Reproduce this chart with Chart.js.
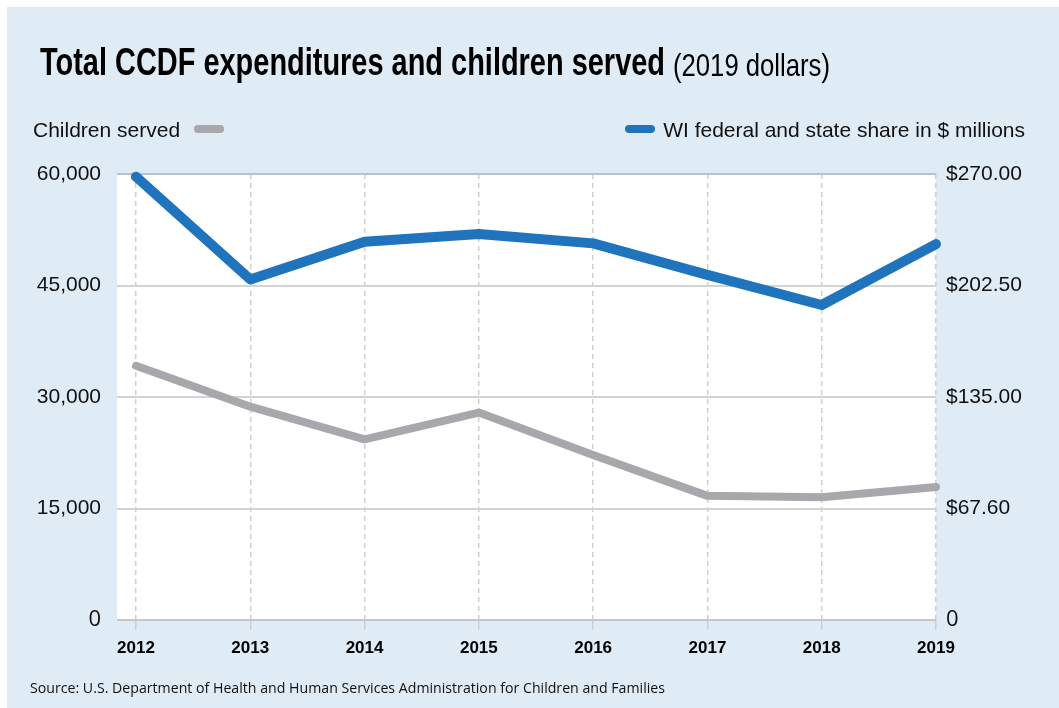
<!DOCTYPE html>
<html>
<head>
<meta charset="utf-8">
<title>Total CCDF expenditures and children served</title>
<script src="https://cdn.jsdelivr.net/npm/chart.js@4.4.1/dist/chart.umd.min.js"></script>
<style>
  body { margin: 0; width: 1059px; height: 708px; overflow: hidden; position: relative; background: #fff; }
  .panel { position: absolute; left: 7px; top: 7px; width: 1052px; height: 701px; background: #dfebf5; }
  #chart { position: absolute; left: 0; top: 0; }
  .txt { position: absolute; white-space: nowrap; line-height: 1; color: #111; transform-origin: 0 0; }
  #title { left: 40px; top: 42px; font-family: "Liberation Sans", Arial, sans-serif; font-size: 39px; font-weight: bold; color: #000; }
  #subtitle { left: 673px; top: 49px; font-family: "Liberation Sans", Arial, sans-serif; font-size: 32px; color: #000; }
  .legend { top: 119px; font-family: "Liberation Sans", Arial, sans-serif; font-size: 21px; }
  .swatch { display: inline-block; width: 30px; height: 8px; border-radius: 4px; vertical-align: middle; position: relative; top: -2px; }
  #source { left: 30px; top: 681px; font-family: "Open Sans", sans-serif; font-size: 14px; }
</style>
</head>
<body>
<div class="panel"></div>
<canvas id="chart" width="1059" height="708"></canvas>
<div class="txt" id="title">Total CCDF expenditures and children served</div>
<div class="txt" id="subtitle">(2019 dollars)</div>
<div class="txt legend" style="left:33px">Children served <span class="swatch" style="background:#a7a8ab;margin-left:8px"></span></div>
<div class="txt legend" style="right:34px"><span class="swatch" style="background:#1f74bd;margin-right:8px"></span>WI federal and state share in $ millions</div>
<div class="txt" id="source">Source: U.S. Department of Health and Human Services Administration for Children and Families</div>

<script>
// data
const years = [2012, 2013, 2014, 2015, 2016, 2017, 2018, 2019];
const childrenServed = [34200, 28700, 24300, 27900, 22200, 16700, 16500, 17900];
const wiShare = [268.4, 206.2, 229.0, 233.7, 228.0, 208.9, 190.7, 227.6];
const leftTicks = [0, 15000, 30000, 45000, 60000];
const rightTicks = [0, 67.5, 135, 202.5, 270];
const rightTickLabels = ['0', '$67.60', '$135.00', '$202.50', '$270.00'];

// squeeze text to the widths measured on the reference (no condensed fonts here)
function fitWidth(id, w) {
  const el = document.getElementById(id);
  el.style.transform = 'scaleX(' + (w / el.getBoundingClientRect().width) + ')';
}
fitWidth('title', 625);
fitWidth('subtitle', 157);
fitWidth('source', 635);

const plotBg = {
  id: 'plotBg',
  beforeDraw(chart) {
    const a = chart.chartArea, ctx = chart.ctx;
    ctx.save();
    ctx.fillStyle = '#fff';
    ctx.fillRect(a.left, a.top, a.right - a.left, a.bottom - a.top);
    ctx.restore();
  }
};

const labelFont = { family: '"Liberation Sans", Arial, sans-serif', size: 21 };
const zeroFont = { family: '"Open Sans", sans-serif', size: 22 };

new Chart(document.getElementById('chart'), {
  type: 'line',
  data: {
    datasets: [
      {
        label: 'Children served',
        data: years.map((y, i) => ({ x: y, y: childrenServed[i] })),
        yAxisID: 'yL',
        borderColor: '#a7a8ab',
        borderWidth: 8,
        pointRadius: 0,
        borderCapStyle: 'round',
        borderJoinStyle: 'round',
        clip: false
      },
      {
        label: 'WI federal and state share in $ millions',
        data: years.map((y, i) => ({ x: y, y: wiShare[i] })),
        yAxisID: 'yR',
        borderColor: '#1f74bd',
        borderWidth: 10,
        pointRadius: 0,
        borderCapStyle: 'round',
        borderJoinStyle: 'round',
        clip: false
      }
    ]
  },
  options: {
    responsive: false,
    animation: false,
    devicePixelRatio: 1,
    layout: { padding: { top: 174, left: 0, right: 0, bottom: 0 } },
    plugins: { legend: { display: false }, tooltip: { enabled: false } },
    scales: {
      x: {
        type: 'linear',
        min: 2011.834,
        max: 2019,
        afterBuildTicks: s => { s.ticks = years.map(v => ({ value: v })); },
        afterFit: s => { s.height = 88; },
        ticks: {
          callback: v => String(v),
          autoSkip: false,
          maxRotation: 0,
          padding: 8,
          color: '#000',
          font: { family: '"Liberation Sans", Arial, sans-serif', size: 17, weight: 'bold' }
        },
        grid: { color: '#cfcfcf', lineWidth: 1.5, tickLength: 10 },
        border: { display: false, dash: [5, 4] }
      },
      yL: {
        position: 'left',
        min: 0,
        max: 60000,
        afterBuildTicks: s => { s.ticks = leftTicks.map(v => ({ value: v })); },
        afterFit: s => { s.width = 117; },
        ticks: {
          callback: v => v.toLocaleString('en-US'),
          padding: 16,
          color: '#111',
          font: ctx => ctx.tick && ctx.tick.value === 0 ? zeroFont : labelFont
        },
        grid: {
          color: ctx => ctx.tick && ctx.tick.value === 60000 ? '#b8c2ca' : (ctx.tick && ctx.tick.value === 0 ? '#c4c7ca' : '#d3d3d3'),
          lineWidth: 2,
          drawTicks: false
        },
        border: { display: false }
      },
      yR: {
        position: 'right',
        min: 0,
        max: 270,
        afterBuildTicks: s => { s.ticks = rightTicks.map(v => ({ value: v })); },
        afterFit: s => { s.width = 123; },
        ticks: {
          callback: (v, i) => rightTickLabels[i],
          padding: 10,
          color: '#111',
          font: ctx => ctx.tick && ctx.tick.value === 0 ? zeroFont : labelFont
        },
        grid: { drawOnChartArea: false, drawTicks: false },
        border: { display: false }
      }
    }
  },
  plugins: [plotBg]
});
</script>
</body>
</html>
